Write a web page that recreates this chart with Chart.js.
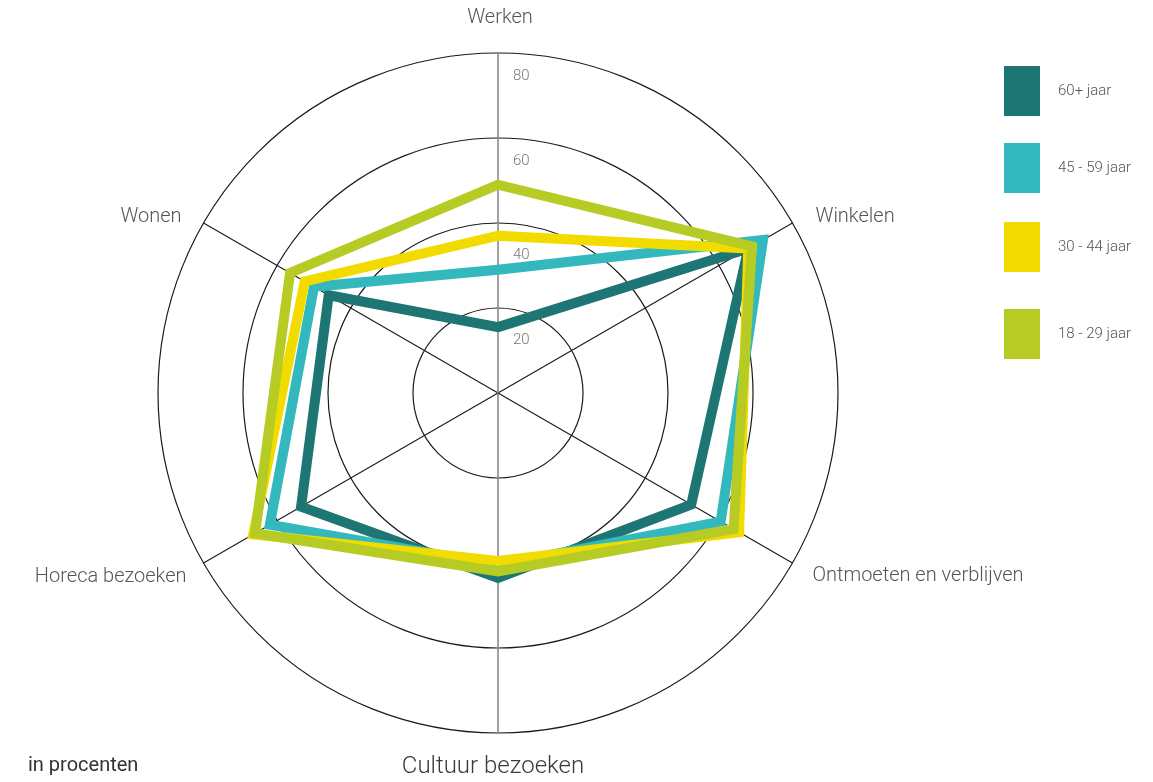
<!doctype html>
<html lang="nl">
  <head>
    <meta charset="UTF-8" />
    <title>Gebruik naar leeftijd</title>
    <script src="https://cdn.jsdelivr.net/npm/chart.js"></script>
    <style>
      body {
        margin: 0;
        background: #ffffff;
        font-family: Roboto, sans-serif;
      }
      #wrap {
        position: relative;
        width: 1153px;
        height: 782px;
      }
    </style>
  </head>
  <body>
    <div id="wrap">
      <canvas id="radar" width="1153" height="782"></canvas>
    </div>

    <script>
      // categorieën (met de klok mee vanaf boven)
      const labels = [
        "Werken",
        "Winkelen",
        "Ontmoeten en verblijven",
        "Cultuur bezoeken",
        "Horeca bezoeken",
        "Wonen",
      ];
      const groepen = ["60+ jaar", "45 - 59 jaar", "30 - 44 jaar", "18 - 29 jaar"];
      const kleuren = ["#1e7674", "#33b9bd", "#f2dc00", "#b6cc25"];

      // waarden in procenten
      const jaar60plus = [15.5, 68, 52.5, 43.5, 53.5, 46];
      const jaar45tot59 = [29, 72, 60.5, 40.5, 62, 50];
      const jaar30tot44 = [37, 68, 65.5, 39.5, 66.5, 52.5];
      const jaar18tot29 = [49, 69, 64, 42, 66, 56.5];

      const tickWaarden = [20, 40, 60, 80];

      // teken-volgorde (lager = bovenop)
      const volgorde = [4, 3, 2, 1];

      const reeksen = [jaar60plus, jaar45tot59, jaar30tot44, jaar18tot29];

      // labels rond de buitenste cirkel, offsets in px vanaf het eindpunt van de as
      const labelPlugin = {
        id: "asLabels",
        afterDraw(chart) {
          const r = chart.scales.r;
          const c = chart.ctx;
          const offs = [
            [2, -35, "center"],
            [23, -6, "left"],
            [20, 13, "left"],
            [-5, 34, "center"],
            [-17, 14, "right"],
            [-22, -6, "right"],
          ];
          c.save();
          c.textBaseline = "middle";
          labels.forEach((txt, i) => {
            const p = r.getPointPositionForValue(i, 80);
            c.textAlign = offs[i][2];
            if (i === 3) {
              c.font = "300 24px Roboto";
              c.fillStyle = "#3a3a3a";
            } else {
              c.font = "300 20px Roboto";
              c.fillStyle = "#555555";
            }
            c.fillText(txt, p.x + offs[i][0], p.y + offs[i][1]);
          });

          // schaalwaarden naast de verticale as
          c.font = "300 15px Roboto";
          c.fillStyle = "#777777";
          c.textAlign = "left";
          tickWaarden.forEach((v) => {
            const p = r.getPointPositionForValue(0, v);
            const dy = v >= 60 ? 23 : 32;
            c.fillText(String(v), p.x + 15, p.y + dy);
          });

          // legenda
          const boxY = [66, 143, 222, 309];
          groepen.forEach((g, i) => {
            c.fillStyle = kleuren[i];
            c.fillRect(1004, boxY[i], 36, 50);
            c.fillStyle = "#555555";
            c.font = "300 15px Roboto";
            c.fillText(g, 1058, boxY[i] + 25);
          });

          c.font = "400 20px Roboto";
          c.fillStyle = "#333333";
          c.fillText("in procenten", 28, 766);
          c.restore();
        },
      };

      new Chart(document.getElementById("radar"), {
        type: "radar",
        data: {
          labels: labels,
          datasets: groepen.map((g, i) => ({
            label: g,
            data: reeksen[i],
            borderColor: kleuren[i],
            backgroundColor: "transparent",
            borderWidth: 10,
            borderJoinStyle: "miter",
            pointRadius: 0,
            pointHoverRadius: 0,
            fill: false,
            order: volgorde[i],
          })),
        },
        options: {
          responsive: false,
          animation: false,
          layout: {
            padding: { left: 158, right: 315, top: 53, bottom: 49 },
          },
          plugins: {
            legend: { display: false },
            tooltip: { enabled: false },
          },
          scales: {
            r: {
              min: 0,
              max: 80,
              ticks: { display: false, stepSize: 20 },
              pointLabels: { display: false },
              grid: {
                circular: true,
                color: "#1a1a1a",
                lineWidth: 1.2,
              },
              angleLines: {
                color: (ctx) => (ctx.index % 3 === 0 ? "#8a8a8a" : "#1a1a1a"),
                lineWidth: (ctx) => (ctx.index % 3 === 0 ? 1.6 : 1.1),
              },
            },
          },
        },
        plugins: [labelPlugin],
      });
    </script>
  </body>
</html>
